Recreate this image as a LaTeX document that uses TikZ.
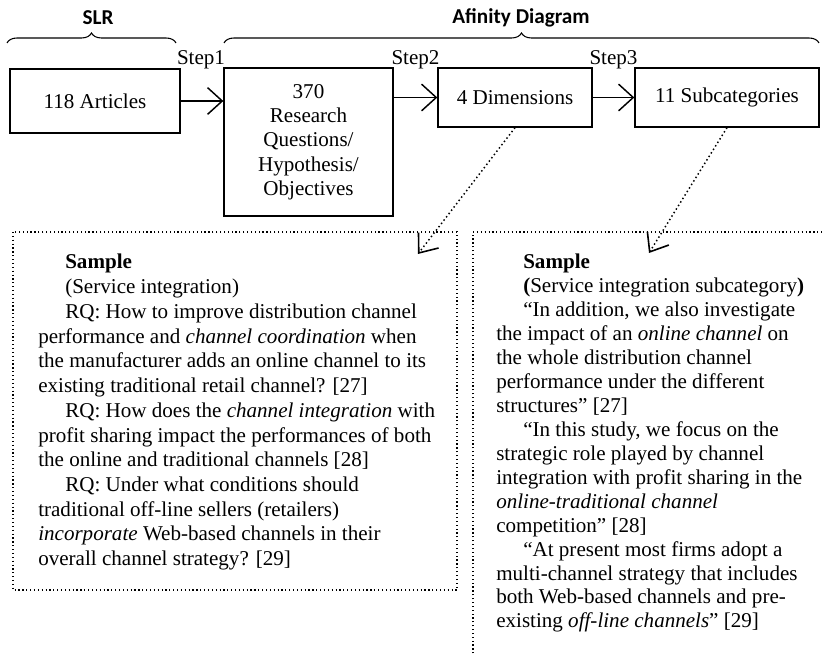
\documentclass[tikz,border=0pt]{standalone}
\usepackage{fontspec}
\setmainfont{Liberation Serif}
\newfontfamily\headfont{Carlito}
\usetikzlibrary{arrows.meta,decorations.pathreplacing,positioning,calc}
\newcommand{\ind}{\hspace*{20.25pt}}

\begin{document}
\begin{tikzpicture}[x=0.75pt,y=-0.75pt,font=\fontsize{15.8}{18.2}\selectfont,
  box/.style={draw,line width=1pt,inner sep=0pt,align=center},
  head/.style={font=\headfont\bfseries\fontsize{15.9}{18}\selectfont},
  brc/.style={decorate,decoration={brace,amplitude=7.5pt},line width=0.8pt},
  arr/.style={-{Straight Barb[length=11pt,width=20pt,line width=1.1pt]},line width=1.1pt},
  darr/.style={dotted,line width=1.1pt,-{Straight Barb[length=12pt,width=19pt,line width=1.2pt,line cap=butt]}},
  smp/.style={draw,dotted,line width=0.9pt},
  txt/.style={inner sep=0pt,align=left,anchor=north west}]
\useasboundingbox (0,0) rectangle (822,655);
\node[head](slr) at(98,18){SLR};
\node[head](afd) at(521,18){Afinity Diagram};
\draw[brc](7,43)--(176,43);
\draw[brc](224,43)--(819,43);
\node[box,minimum width=127.5pt,minimum height=48pt](art) at(95,101){118 Articles};
\node[box,minimum width=126.75pt,minimum height=111pt](rq) at(308.5,142){370\\Research\\Questions/\\Hypothesis/\\Objectives};
\node[box,minimum width=115.5pt,minimum height=44.25pt](dim) at(515,97.5){4 Dimensions};
\node[box,minimum width=138pt,minimum height=44.25pt](sub) at(727,97.5){11 Subcategories};
\node[anchor=base](s1) at(201,65){Step1};
\node[anchor=base](s2) at(415.5,65){Step2};
\node[anchor=base](s3) at(613.5,65){Step3};
\draw[arr](art.east)--(art.east -| rq.west);
\draw[arr](dim.west -| rq.east)--(dim.west);
\draw[arr](dim.east)--(sub.west);
\draw[smp](13,232) rectangle (457,590);
\draw[smp](473,665) |- (830,232);
\coordinate(t1) at(418,254);
\coordinate(t2) at(649,253);
\draw[darr](dim.south)--(t1);
\draw[darr](sub.south)--(t2);
\node[txt,font=\fontsize{15.8}{18.55}\selectfont](lt) at(38,254){%
\ind\textbf{Sample}\\
\ind(Service integration)\\
\ind RQ: How to improve distribution channel\\
performance and \textit{channel coordination} when\\
the manufacturer adds an online channel to its\\
existing traditional retail channel? [27]\\
\ind RQ: How does the \textit{channel integration} with\\
profit sharing impact the performances of both\\
the online and traditional channels [28]\\
\ind RQ: Under what conditions should\\
traditional off-line sellers (retailers)\\
\textit{incorporate} Web-based channels in their\\
overall channel strategy? [29]};
\node[txt,font=\fontsize{15.8}{17.95}\selectfont](rt) at(496,254){%
\ind\textbf{Sample}\\
\ind\textbf{(}Service integration subcategory\textbf{)}\\
\ind “In addition, we also investigate\\
the impact of an \textit{online channel} on\\
the whole distribution channel\\
performance under the different\\
structures” [27]\\
\ind “In this study, we focus on the\\
strategic role played by channel\\
integration with profit sharing in the\\
\textit{online-traditional channel}\\
competition” [28]\\
\ind “At present most firms adopt a\\
multi-channel strategy that includes\\
both Web-based channels and pre-\\
existing \textit{off-line channels}” [29]};
\end{tikzpicture}
\end{document}
